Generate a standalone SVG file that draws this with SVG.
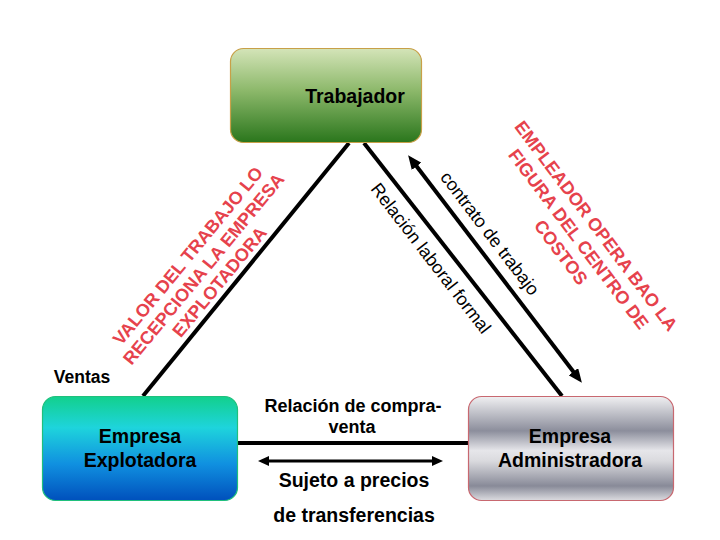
<svg xmlns="http://www.w3.org/2000/svg" width="720" height="540" viewBox="0 0 720 540">
<defs>
<linearGradient id="gTop" x1="0" y1="0" x2="0" y2="1">
<stop offset="0" stop-color="#d4e4b8"/>
<stop offset="0.45" stop-color="#8cb86a"/>
<stop offset="1" stop-color="#2a761c"/>
</linearGradient>
<linearGradient id="gLeft" x1="0" y1="0" x2="0" y2="1">
<stop offset="0" stop-color="#12d08c"/>
<stop offset="0.3" stop-color="#1ed4dc"/>
<stop offset="0.65" stop-color="#1090e0"/>
<stop offset="1" stop-color="#0050bc"/>
</linearGradient>
<linearGradient id="gRight" x1="0" y1="0" x2="0" y2="1">
<stop offset="0" stop-color="#f0f0f2"/>
<stop offset="0.33" stop-color="#8c8e9c"/>
<stop offset="0.52" stop-color="#e6e6ea"/>
<stop offset="0.62" stop-color="#dadade"/>
<stop offset="0.86" stop-color="#888a98"/>
<stop offset="1" stop-color="#dcdce0"/>
</linearGradient>
<marker id="ah" markerUnits="userSpaceOnUse" markerWidth="14" markerHeight="12" viewBox="0 0 14 12" refX="1" refY="6" orient="auto-start-reverse">
<path d="M0,0 L14,6 L0,12 z" fill="#000"/>
</marker>
<marker id="ahs" markerUnits="userSpaceOnUse" markerWidth="11" markerHeight="10" viewBox="0 0 11 10" refX="1" refY="5" orient="auto-start-reverse">
<path d="M0,0 L11,5 L0,10 z" fill="#000"/>
</marker>
</defs>
<style>
.node{font-family:"Liberation Sans",Arial,sans-serif;font-weight:bold;font-size:19.5px;fill:#000;text-anchor:middle}
.lbl{font-family:"Liberation Sans",Arial,sans-serif;font-weight:bold;fill:#000;text-anchor:middle}
.rot{font-family:"Liberation Sans",Arial,sans-serif;font-size:18px;fill:#000;text-anchor:middle}
.red{font-family:"Liberation Sans",Arial,sans-serif;font-weight:bold;font-size:18px;fill:#e6424c;text-anchor:middle}
.ln{stroke:#000;stroke-width:4;fill:none}
</style>
<rect width="720" height="540" fill="#fff"/>

<g id="connectors">
<line class="ln" x1="349" y1="143" x2="143" y2="396"/>
<line class="ln" x1="364" y1="143" x2="562" y2="396"/>
<line class="ln" x1="416" y1="165.5" x2="574" y2="372.5" marker-start="url(#ah)" marker-end="url(#ah)"/>
<line class="ln" x1="237" y1="443" x2="468" y2="443"/>
<line x1="268" y1="461" x2="433" y2="461" stroke="#000" stroke-width="3" marker-start="url(#ahs)" marker-end="url(#ahs)"/>
<text class="rot" transform="translate(489,234) rotate(52.6)" y="5">contrato de trabajo</text>
<text class="rot" transform="translate(430,259) rotate(52.4)" y="5">Relación laboral formal</text>
<text class="lbl" font-size="18" x="353" y="412">Relación de compra-</text>
<text class="lbl" font-size="18" x="352" y="433">venta</text>
<text class="lbl" font-size="19.5" x="354" y="487">Sujeto a precios</text>
<text class="lbl" font-size="19.5" x="354" y="522">de transferencias</text>
</g>

<g id="red-left" transform="translate(188,256) rotate(-50.5)">
<text class="red" font-size="17.5" x="0" y="6">VALOR DEL TRABAJO LO</text>
<text class="red" font-size="17.5" x="0" y="26.5">RECEPCIONA LA EMPRESA</text>
<text class="red" font-size="17.5" x="0" y="47">EXPLOTADORA</text>
</g>
<g id="red-right" transform="translate(596,226) rotate(53)">
<text class="red" x="0" y="6">EMPLEADOR OPERA BAO LA</text>
<text class="red" x="0" y="28">FIGURA DEL CENTRO DE</text>
<text class="red" x="0" y="50">COSTOS</text>
</g>

<g id="ventas">
<text class="lbl" font-size="17.5" x="82" y="383">Ventas</text>
</g>

<g id="trabajador">
<rect x="230.5" y="48.5" width="191" height="94" rx="13" fill="url(#gTop)" stroke="#c8a048" stroke-width="1.2"/>
<text class="node" x="355" y="103">Trabajador</text>
</g>
<g id="explotadora">
<rect x="42.5" y="396.5" width="195" height="104" rx="13" fill="url(#gLeft)" stroke="#20c07c" stroke-width="1.2"/>
<text class="node" x="140" y="443">Empresa</text>
<text class="node" x="140" y="467">Explotadora</text>
</g>
<g id="administradora">
<rect x="468.5" y="396.5" width="205" height="104" rx="13" fill="url(#gRight)" stroke="#c86870" stroke-width="1.2"/>
<text class="node" x="570" y="443">Empresa</text>
<text class="node" x="570" y="467">Administradora</text>
</g>
</svg>
